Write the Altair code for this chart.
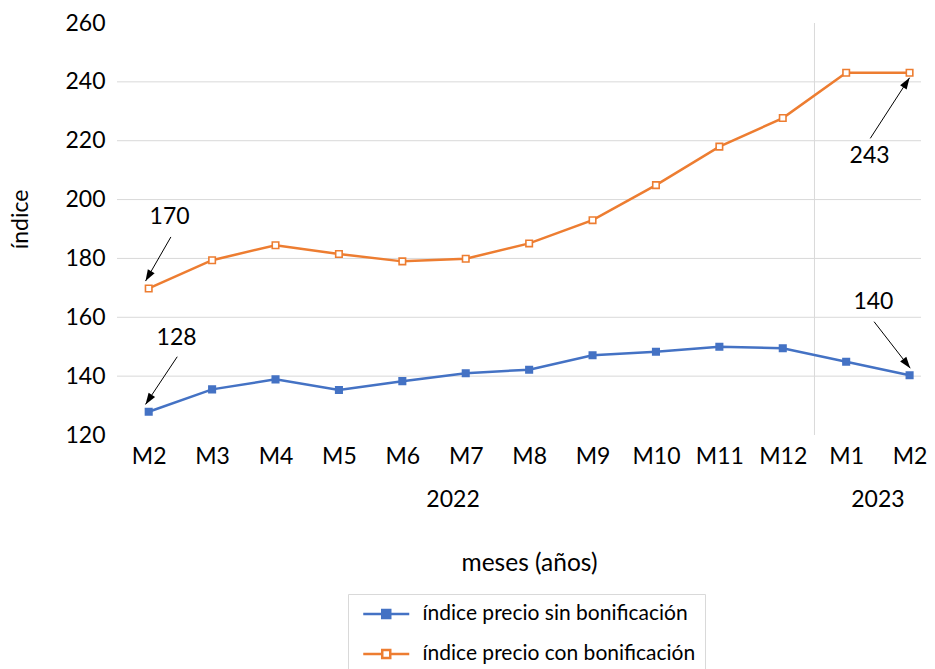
import math
import altair as alt
import pandas as pd

# ---- data ----
months = ["M2", "M3", "M4", "M5", "M6", "M7", "M8", "M9", "M10", "M11", "M12", "M1", "M2"]
sin_bon = [127.9, 135.5, 138.9, 135.3, 138.3, 141.0, 142.2, 147.1, 148.3, 150.0, 149.5, 144.9, 140.3]
con_bon = [169.8, 179.4, 184.5, 181.5, 179.0, 179.9, 185.1, 193.0, 204.9, 218.0, 227.7, 243.1, 243.1]
series_names = ["índice precio sin bonificación", "índice precio con bonificación"]
y_ticks = [120, 140, 160, 180, 200, 220, 240, 260]
grid_vals = [140, 160, 180, 200, 220, 240]
years = ["2022", "2023"]
year_pos = [4.8, 11.5]
separator_pos = [10.5]

# annotations (data coordinates)
ann_text = ["170", "128", "243", "140"]
ann_tx = [0.33, 0.44, 11.37, 11.43]
ann_ty = [194.1, 153.0, 214.8, 165.3]
arr_x0 = [0.35, 0.45, 11.38, 11.44]
arr_y0 = [187.3, 146.6, 220.8, 158.5]
arr_x1 = [-0.05, -0.05, 12.0, 12.01]
arr_y1 = [172.3, 130.4, 241.4, 142.7]

# ---- layout ----
W, H = 804, 412
x_dom = [-0.5, 12.18]
y_dom = [120, 260]
px_per_x = W / (x_dom[1] - x_dom[0])
px_per_y = H / (y_dom[1] - y_dom[0])

BLUE = "#4472C4"
ORANGE = "#ED7D31"
FONT = "Lato"
FS = 23

idx = list(range(len(months)))
rows = []
for i in idx:
    rows.append({"i": i, "v": sin_bon[i], "s": series_names[0]})
for i in idx:
    rows.append({"i": i, "v": con_bon[i], "s": series_names[1]})
df = pd.DataFrame(rows)

angles = []
for a, b, c, d in zip(arr_x0, arr_y0, arr_x1, arr_y1):
    dx = (c - a) * px_per_x
    dy = -(d - b) * px_per_y
    angles.append(math.degrees(math.atan2(dx, -dy)) % 360)
arr_df = pd.DataFrame({"x0": arr_x0, "y0": arr_y0, "x1": arr_x1, "y1": arr_y1, "ang": angles})
ann_df = pd.DataFrame({"t": ann_text, "x": ann_tx, "y": ann_ty})
grid_df = pd.DataFrame({"g": grid_vals})
sep_df = pd.DataFrame({"p": separator_pos})
year_df = pd.DataFrame({"t": years, "x": year_pos})

xscale = alt.Scale(domain=x_dom, nice=False, zero=False)
yscale = alt.Scale(domain=y_dom, nice=False, zero=False)

label_expr = "[" + ",".join("'%s'" % m for m in months) + "][datum.value]"
x_axis = alt.Axis(
    values=idx, labelExpr=label_expr, title="meses (años)", grid=False, domain=False,
    ticks=False, labelFontSize=FS, labelPadding=10, labelColor="#000", labelFont=FONT,
    titleFontSize=24.5, titleFont=FONT, titleFontWeight="normal", titleColor="#000",
    titleX=412, titleY=128, titleBaseline="middle", labelFlush=False,
)
y_axis = alt.Axis(
    values=y_ticks, title="índice", grid=False, domain=False, ticks=False,
    labelFontSize=FS, labelPadding=12, labelColor="#000", labelFont=FONT,
    titleFontSize=FS, titleFont=FONT, titleFontWeight="normal", titleColor="#000",
    titleX=-97, titleY=196, titleBaseline="middle", titleAngle=270,
)

sym_path = "M-0.594,0H1.78M2.78,0H5.156M1.78,-0.5H2.78V0.5H1.78Z"
legend = alt.Legend(
    title=None, orient="none", legendX=231, legendY=571, symbolType=sym_path,
    symbolSize=256, symbolStrokeWidth=2.5, labelFontSize=21, labelFont=FONT,
    labelColor="#000", labelOffset=44, rowPadding=18, padding=9.5,
    strokeColor="#D9D9D9", fillColor="white", labelLimit=500,
)

X = alt.X("i:Q", scale=xscale, axis=x_axis)
Y = alt.Y("v:Q", scale=yscale, axis=y_axis)

grid = alt.Chart(grid_df).mark_rule(color="#D9D9D9", strokeWidth=1).encode(
    y=alt.Y("g:Q", scale=yscale, axis=y_axis)
)
sep = alt.Chart(sep_df).mark_rule(color="#D9D9D9", strokeWidth=1).encode(
    x=alt.X("p:Q", scale=xscale, axis=x_axis)
)

stroke_enc = alt.Stroke("s:N", scale=alt.Scale(domain=series_names, range=[BLUE, ORANGE]), legend=legend)
fill_enc = alt.Fill("s:N", scale=alt.Scale(domain=series_names, range=[BLUE, "white"]), legend=legend)

lines = alt.Chart(df).mark_line(strokeWidth=2.5).encode(
    x=X, y=Y, stroke=stroke_enc, detail="s:N"
)
points = alt.Chart(df).mark_point(shape="square", filled=True, size=42, strokeWidth=1.6, opacity=1).encode(
    x=X, y=Y, stroke=stroke_enc, fill=fill_enc
)

arrows = alt.Chart(arr_df).mark_rule(color="black", strokeWidth=1).encode(
    x=alt.X("x0:Q", scale=xscale, axis=x_axis),
    y=alt.Y("y0:Q", scale=yscale, axis=y_axis),
    x2="x1:Q", y2="y1:Q",
)
head_path = "M0,0L-0.65,1.9L0.65,1.9Z"
heads = alt.Chart(arr_df).mark_point(shape=head_path, filled=True, color="black", size=144, opacity=1).encode(
    x=alt.X("x1:Q", scale=xscale, axis=x_axis),
    y=alt.Y("y1:Q", scale=yscale, axis=y_axis),
    angle=alt.Angle("ang:Q", scale=None),
)
ann = alt.Chart(ann_df).mark_text(fontSize=FS, font=FONT, color="black").encode(
    x=alt.X("x:Q", scale=xscale, axis=x_axis),
    y=alt.Y("y:Q", scale=yscale, axis=y_axis),
    text="t:N",
)
yr = alt.Chart(year_df).mark_text(fontSize=FS, font=FONT, color="black", baseline="middle").encode(
    x=alt.X("x:Q", scale=xscale, axis=x_axis),
    y=alt.value(477),
    text="t:N",
)

chart = alt.layer(grid, sep, lines, points, arrows, heads, ann, yr).properties(
    width=W, height=H,
    autosize=alt.AutoSizeParams(type="none"),
    padding={"left": 109, "top": 15, "right": 6, "bottom": 234},
).configure(font=FONT).configure_view(stroke=None)

chart.save("out.html", embed_options={"renderer": "svg", "actions": False})
